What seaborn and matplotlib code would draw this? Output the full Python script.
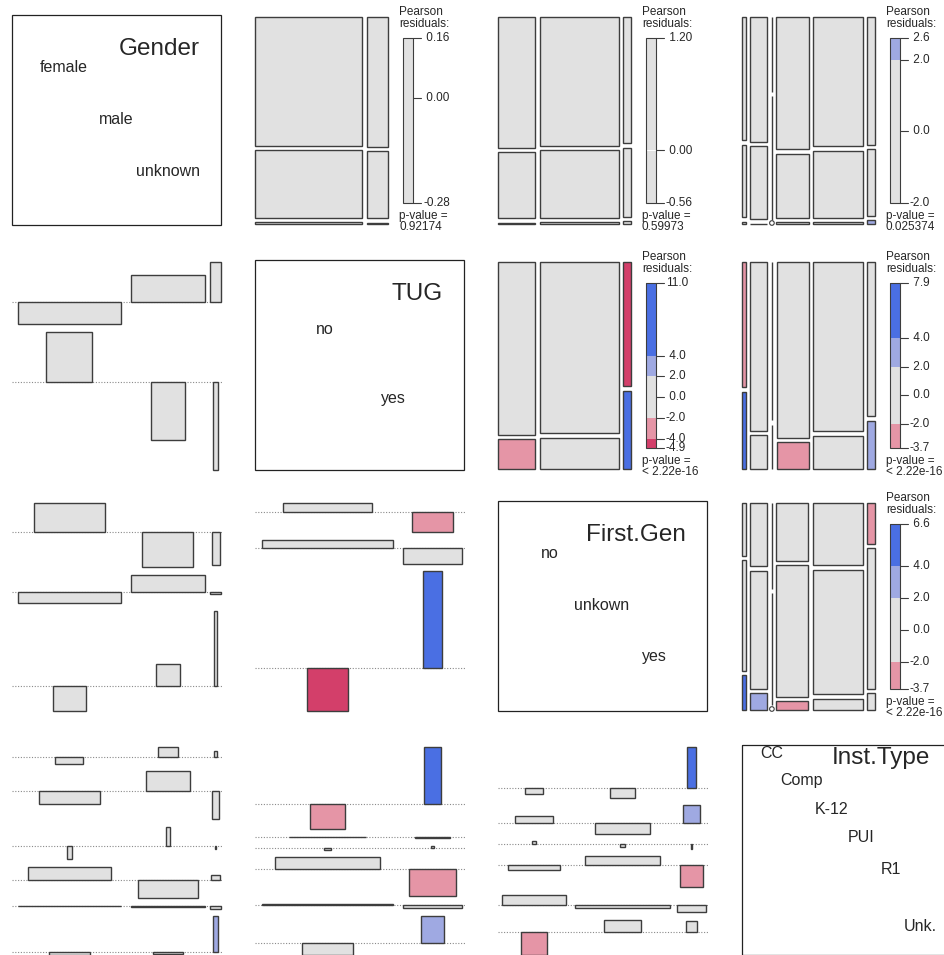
import numpy as np
import matplotlib
matplotlib.use('Agg')
import matplotlib.pyplot as plt
from matplotlib.patches import Rectangle, Circle
import seaborn as sns

sns.set_style('white')
plt.rcParams['font.family'] = ['Liberation Sans', 'DejaVu Sans']

# ---- data -------------------------------------------------------------
var_names = ['Gender', 'TUG', 'First.Gen', 'Inst.Type']
gender_levels = ['female', 'male', 'unknown']
tug_levels = ['no', 'yes']
firstgen_levels = ['no', 'unkown', 'yes']
insttype_levels = ['CC', 'Comp', 'K-12', 'PUI', 'R1', 'Unk.']

n_total = 6700
gender_share = [0.652, 0.340, 0.008]
tug_share = [0.833, 0.167]
firstgen_share = [0.300, 0.637, 0.063]
insttype_share = [0.034, 0.155, 0.0012, 0.290, 0.450, 0.0698]

# Pearson residuals, rows = first variable, columns = second variable
res_gender_tug = [[-0.071, 0.16], [0.084, -0.184], [0.126, -0.28]]
res_gender_firstgen = [[0.46, -0.18, -0.39],
                       [-0.56, 0.27, 0.36],
                       [-0.52, -0.03, 1.20]]
res_gender_insttype = [[-0.48, -0.92, -0.96, 0.96, 0.03, -0.20],
                       [0.72, 1.44, 1.39, -1.30, -0.04, -0.12],
                       [0.43, -2.0, -0.25, 0.36, -0.17, 2.6]]
res_tug_firstgen = [[1.06, 0.875, -4.9], [-2.27, -1.82, 11.0]]
res_tug_insttype = [[-3.55, 0.05, -0.24, 1.67, 0.2, -1.68],
                    [7.9, -0.1, 0.3, -3.7, -0.46, 3.75]]
res_firstgen_insttype = [[-0.97, 1.13, 0.48, -0.81, 1.61, -3.7],
                         [-1.61, -1.77, -0.44, 1.45, -0.60, 1.94],
                         [6.6, 2.8, -0.7, -3.5, -1.29, 1.77]]

p_gender_tug = '0.92174'
p_gender_firstgen = '0.59973'
p_gender_insttype = '0.025374'
p_tug_firstgen = '< 2.22e-16'
p_tug_insttype = '< 2.22e-16'
p_firstgen_insttype = '< 2.22e-16'

levels = [gender_levels, tug_levels, firstgen_levels, insttype_levels]
shares = [gender_share, tug_share, firstgen_share, insttype_share]
pairs = {(0, 1): (res_gender_tug, p_gender_tug),
         (0, 2): (res_gender_firstgen, p_gender_firstgen),
         (0, 3): (res_gender_insttype, p_gender_insttype),
         (1, 2): (res_tug_firstgen, p_tug_firstgen),
         (1, 3): (res_tug_insttype, p_tug_insttype),
         (2, 3): (res_firstgen_insttype, p_firstgen_insttype)}

# ---- style ------------------------------------------------------------
BLUE, LBLUE, GREY, LRED, RED = '#4A6FE3', '#9FA9E2', '#E1E1E1', '#E595A6', '#D33F6A'
EDGE = '#3d3d3d'
SMALL = 8.5
# vertical text placement in the Inst.Type diagonal panel (name, levels)
INST_TEXT_Y = (28, [23, 50, 79, 107, 139, 196])


def shade(r):
    if r > 4:
        return BLUE
    if r > 2:
        return LBLUE
    if r < -4:
        return RED
    if r < -2:
        return LRED
    return GREY


def draw_legend(ax, res, pval):
    lo, hi = res.min(), res.max()
    x0, x1, yt, yb = 160, 170, 38, 203

    def ypos(v):
        return yb - (v - lo) / (hi - lo) * (yb - yt)

    cuts = sorted(set([lo, hi] + [c for c in (-4, -2, 0, 2, 4) if lo < c < hi]))
    for a, b in zip(cuts[:-1], cuts[1:]):
        ax.add_patch(Rectangle((x0, ypos(b)), x1 - x0, ypos(a) - ypos(b),
                               fc=shade((a + b) / 2), ec='none'))
    ax.add_patch(Rectangle((x0, yt), x1 - x0, yb - yt, fc='none', ec=EDGE, lw=0.8))
    dec = 2 if max(abs(lo), abs(hi)) < 2 else 1
    labs = [f'{v:.{dec}f}' for v in cuts]
    width = max(len(s) for s in labs)
    for v, s in zip(cuts, labs):
        ax.plot([x1, x1 + 8], [ypos(v), ypos(v)], color=EDGE, lw=0.8)
        ax.text(x1 + 10, ypos(v), s.rjust(width), ha='left', va='center', fontsize=SMALL)
    ax.text(156, 12, 'Pearson', ha='left', va='center', fontsize=SMALL)
    ax.text(156, 24, 'residuals:', ha='left', va='center', fontsize=SMALL)
    ax.text(156, 216, 'p-value =', ha='left', va='center', fontsize=SMALL)
    ax.text(156, 227, pval, ha='left', va='center', fontsize=SMALL)


def draw_mosaic(ax, res, p_row, p_col, pval):
    res = np.asarray(res, float)
    exp = n_total * np.outer(p_row, p_col)
    obs = exp + res * np.sqrt(exp)
    zero = obs < 0.5
    obs = np.where(zero, 0, obs)
    nr, nc = obs.shape
    x_lo, x_hi, y_lo, y_hi, gap = 12, 145, 17, 224, 4.5
    col_tot = obs.sum(0)
    w = (x_hi - x_lo - gap * (nc - 1)) * col_tot / col_tot.sum()
    x = x_lo
    for j in range(nc):
        h = (y_hi - y_lo - gap * (nr - 1)) * obs[:, j] / col_tot[j]
        y = y_lo
        for i in range(nr):
            if zero[i, j]:
                ax.add_patch(Circle((x + w[j] / 2, y - 1), 2.3, fc='white', ec=EDGE, lw=0.8, zorder=3))
            else:
                ax.add_patch(Rectangle((x, y), w[j], h[i], fc=shade(res[i, j]), ec=EDGE, lw=1.0))
            y += h[i] + gap
        x += w[j] + gap
    draw_legend(ax, res, pval)


def draw_assoc(ax, res, p_row, p_col):
    res = np.asarray(res, float)
    sq = np.sqrt(n_total * np.outer(p_row, p_col))
    nr, nc = res.shape
    col_w = sq.max(0)
    sx = 210 / col_w.sum()
    top = np.maximum(res.max(1), 0)
    bot = np.maximum(-res.min(1), 0)
    gap = 7.7
    sy = (208 - gap * (nr - 1)) / (top + bot).sum()
    y = 17
    for i in range(nr):
        base = y + top[i] * sy
        ax.plot([12, 222], [base, base], ls=(0, (1, 1.5)), color='#8a8a8a', lw=0.8, zorder=1)
        x = 12
        for j in range(nc):
            cx = x + col_w[j] * sx / 2
            bw = 0.9 * sq[i, j] * sx
            ax.add_patch(Rectangle((cx - bw / 2, base), bw, -res[i, j] * sy,
                                   fc=shade(res[i, j]), ec=EDGE, lw=1.0, zorder=2))
            x += col_w[j] * sx
        y += (top[i] + bot[i]) * sy + gap


def draw_diag(ax, name, levs, text_y=None):
    ax.add_patch(Rectangle((12, 15), 209, 210, fc='none', ec='#222222', lw=0.9))
    k = len(levs)
    step = 208 / (k + 1)
    if text_y is None:
        text_y = (49, [15 + i * step for i in range(1, k + 1)])
    ax.text(200, text_y[0], name, ha='right', va='center', fontsize=17.5)
    for i, (lev, ly) in enumerate(zip(levs, text_y[1]), 1):
        ax.text(12 + i * step, ly, lev, ha='center', va='center', fontsize=11.5)


# ---- figure -----------------------------------------------------------
W, H, P = 944, 955, 243
col_x = [0, 243, 486, 730]
row_y = [0, 245, 486, 730]

fig = plt.figure(figsize=(W / 100, H / 100), dpi=100)
for r in range(4):
    for c in range(4):
        ax = fig.add_axes([col_x[c] / W, 1 - (row_y[r] + P) / H, P / W, P / H])
        ax.set_xlim(0, P)
        ax.set_ylim(P, 0)
        ax.axis('off')
        if r == c:
            draw_diag(ax, var_names[r], levels[r], INST_TEXT_Y if r == 3 else None)
        elif r < c:
            res, pval = pairs[(r, c)]
            draw_mosaic(ax, res, shares[r], shares[c], pval)
        else:
            res, _ = pairs[(c, r)]
            draw_assoc(ax, np.asarray(res).T, shares[r], shares[c])

fig.savefig('out.png', dpi=100)
